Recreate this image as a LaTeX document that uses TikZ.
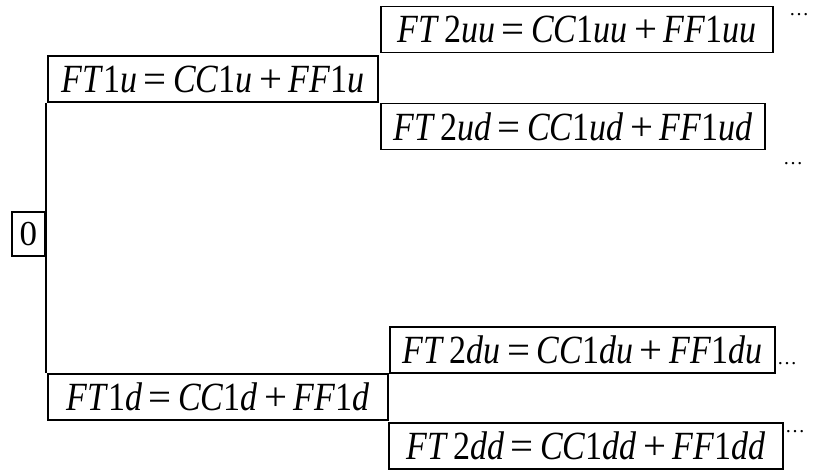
\documentclass[tikz,border=0pt]{standalone}
\usepackage{fontspec}
\setmainfont{Liberation Serif}
\newcommand\iv[1]{\textit{#1}}
\newcommand\opsym[1]{\hspace{0.19em}\scalebox{1.2}[1]{#1}\hspace{0.19em}}
\newcommand\eqtext[1]{\scalebox{0.85}[1]{\fontsize{40}{40}\selectfont #1}}
\begin{document}
\begin{tikzpicture}[x=1pt,y=-1pt,
  eqbox/.style={draw, line width=1.6pt, inner sep=0pt, minimum height=46pt, anchor=center},
  dotsnode/.style={inner sep=0pt, anchor=base, font=\fontsize{20}{20}\selectfont},
  branch/.style={line width=2.6pt}]
\useasboundingbox (0,0) rectangle (820,471);
\node[eqbox, minimum width=392pt] (uu) at (577,29.5) {\eqtext{\iv{FT}\hspace{0.15em}2\iv{uu}\opsym{=}\iv{CC}1\iv{uu}\opsym{+}\iv{FF}1\iv{uu}}};
\node[eqbox, minimum width=330pt] (u) at (213,79) {\eqtext{\iv{FT}1\iv{u}\opsym{=}\iv{CC}1\iv{u}\opsym{+}\iv{FF}1\iv{u}}};
\node[eqbox, minimum width=384pt] (ud) at (573,126.5) {\eqtext{\iv{FT}\hspace{0.15em}2\iv{ud}\opsym{=}\iv{CC}1\iv{ud}\opsym{+}\iv{FF}1\iv{ud}}};
\node[eqbox, minimum width=33pt, minimum height=44pt, font=\fontsize{35}{35}\selectfont] (zero) at (28.5,234) {0};
\node[eqbox, minimum width=385pt] (du) at (582.5,350) {\eqtext{\iv{FT}\hspace{0.15em}2\iv{du}\opsym{=}\iv{CC}1\iv{du}\opsym{+}\iv{FF}1\iv{du}}};
\node[eqbox, minimum width=340pt] (d) at (218,397) {\eqtext{\iv{FT}1\iv{d}\opsym{=}\iv{CC}1\iv{d}\opsym{+}\iv{FF}1\iv{d}}};
\node[eqbox, minimum width=394pt] (dd) at (586,446) {\eqtext{\iv{FT}\hspace{0.15em}2\iv{dd}\opsym{=}\iv{CC}1\iv{dd}\opsym{+}\iv{FF}1\iv{dd}}};
\node[dotsnode] (uudots) at (799,16) {…};
\node[dotsnode] (uddots) at (793,164) {…};
\node[dotsnode] (dudots) at (787,364) {…};
\node[dotsnode] (dddots) at (795,432) {…};
\draw[branch] (u.south west -| zero.east) -- (d.north west -| zero.east);
\end{tikzpicture}
\end{document}
